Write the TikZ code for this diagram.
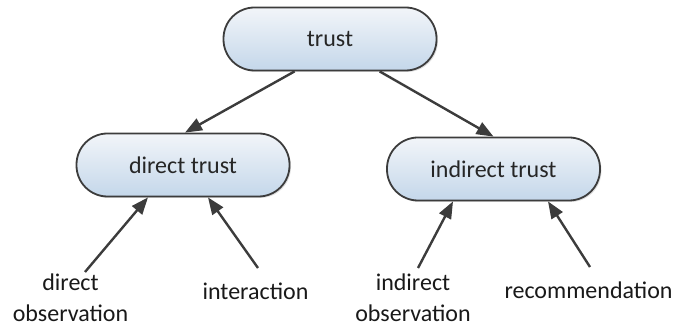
\documentclass[tikz,border=0pt]{standalone}
\usepackage{fontspec}
\setmainfont{Carlito}
\usetikzlibrary{arrows.meta,shadows,calc}
\definecolor{edgegray}{HTML}{3C3C3C}
\definecolor{topfill}{HTML}{F2F5F9}
\definecolor{botfill}{HTML}{C4D7EA}
\tikzset{
  pill/.style={draw=edgegray, line width=1.8pt, rounded corners=31pt,
    minimum width=213pt, minimum height=63pt, top color=topfill, bottom color=botfill,
    drop shadow={shadow xshift=1.5pt, shadow yshift=-1.5pt, opacity=0.25, fill=gray},
    font=\fontsize{24}{29}\selectfont, text=black!85},
  lbl/.style={font=\fontsize{24}{31}\selectfont, align=center, anchor=base, text=black!90, inner sep=0pt},
  arr/.style={draw=edgegray, line width=2.4pt, -{Triangle[length=17pt,width=13pt]}}
}
\begin{document}
\begin{tikzpicture}[x=1pt,y=-1pt]
\useasboundingbox (0,0) rectangle (685,328);
\node[pill] (trust) at (330,39) {trust};
\node[pill] (direct) at (183,165) {direct trust};
\node[pill] (indirect) at (493.5,169) {indirect trust};

\node[lbl] (dobs) at (70.5,322) {direct\\observation};
\node[lbl] (inter) at (255.5,300) {interaction};
\node[lbl] (iobs) at (413,322) {indirect\\observation};
\node[lbl] (recom) at (588.5,299) {recommendation};

\coordinate (s1) at (85,272);
\coordinate (s2) at (258,268);
\coordinate (s3) at (418,268);
\coordinate (s4) at (590,267);

\draw[arr] ($(trust.south west)+(72,0)$) -- ($(direct.north)+(2,0)$);
\draw[arr] ($(trust.south west)+(157,0)$) -- (indirect.north);
\draw[arr] (s1) -- ($(direct.south)+(-35,0)$);
\draw[arr] (s2) -- ($(direct.south)+(25,0)$);
\draw[arr] (s3) -- ($(indirect.south)+(-40.5,0)$);
\draw[arr] (s4) -- ($(indirect.south)+(54.5,0)$);
\end{tikzpicture}
\end{document}
